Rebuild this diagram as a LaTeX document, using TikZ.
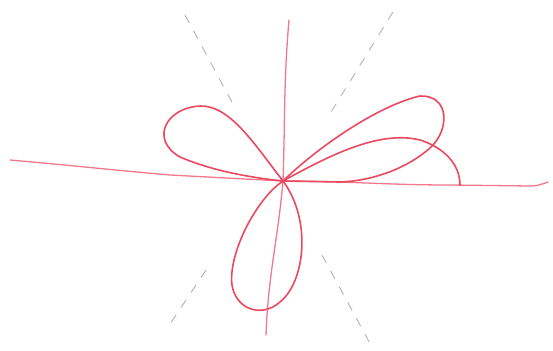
\documentclass[tikz,border=0pt]{standalone}
\usepackage{xcolor}
\usepackage{tikz}
\definecolor{sketchred}{RGB}{236,72,96}
\definecolor{sketchpink}{RGB}{242,120,140}
\tikzset{
  axisline/.style={draw=sketchpink, line width=1.3pt, line cap=round},
  petal/.style={draw=sketchred, line width=1.6pt, line cap=round, line join=round},
  guide/.style={draw=gray!55, line width=1pt, dash pattern=on 9pt off 9pt}
}
\begin{document}
\begin{tikzpicture}[x=1pt, y=-1pt]
\useasboundingbox (0,0) rectangle (553,350);

% Pole
\coordinate (O) at (283,181);

% Guide rays (dashed)
\draw[guide] (185,15) -- (233,104);
\draw[guide] (393,12) -- (331,112);
\draw[guide] (206,270) -- (166,330);
\draw[guide] (322,255) -- (372,347);

% Axes
\draw[axisline] (10,160) to[out=-5, in=175] (170,175) -- (O)
  to[out=0, in=180] (450,185) -- (530,186) to[out=0, in=-160] (548,182);
\draw[axisline] (289,20) to[out=-95, in=88] (O) to[out=-95, in=88] (266,335);

% Petals
\draw[petal] (O) .. controls (255,145) and (230,105) .. (200,106)
  .. controls (165,108) and (150,140) .. (180,157)
  .. controls (215,172) and (255,178) .. (O);
\draw[petal] (O) .. controls (320,145) and (380,105) .. (420,96)
  .. controls (450,95) and (450,130) .. (430,148)
  .. controls (405,170) and (370,181) .. (340,182) -- (O);
\draw[petal] (O) .. controls (330,155) and (380,130) .. (420,140)
  .. controls (445,148) and (460,165) .. (460,185);
\draw[petal] (O) .. controls (255,200) and (228,255) .. (232,285)
  .. controls (236,310) and (262,318) .. (280,302)
  .. controls (305,282) and (312,220) .. (O);
\end{tikzpicture}
\end{document}
